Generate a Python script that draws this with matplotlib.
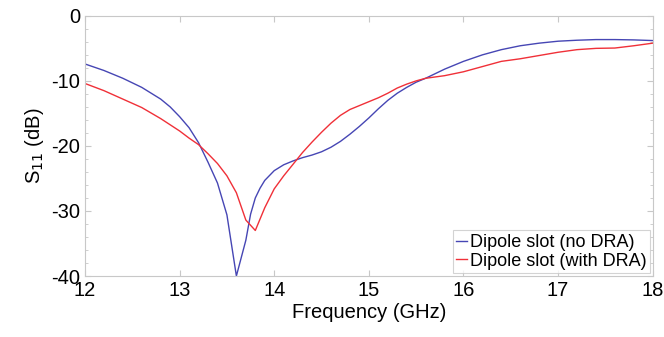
import numpy as np
import matplotlib.pyplot as plt

plt.rcParams['font.family'] = ['Liberation Sans', 'DejaVu Sans']
plt.rcParams['axes.unicode_minus'] = False

# Dipole slot (no DRA)
freq_no = [12.0, 12.2, 12.4, 12.6, 12.8, 12.9, 13.0, 13.1, 13.2, 13.3, 13.4, 13.5, 13.6,
           13.7, 13.75, 13.8, 13.85, 13.9, 14.0, 14.1, 14.2, 14.3, 14.4, 14.5, 14.6,
           14.7, 14.8, 14.9, 15.0, 15.1, 15.2, 15.3, 15.4, 15.5, 15.6, 15.8, 16.0,
           16.2, 16.4, 16.6, 16.8, 17.0, 17.2, 17.4, 17.6, 17.8, 18.0]
s11_no = [-7.4, -8.4, -9.6, -11.0, -12.8, -14.0, -15.5, -17.2, -19.5, -22.5, -25.7, -30.6, -40.0,
          -34.5, -30.5, -28.0, -26.5, -25.3, -23.8, -22.9, -22.3, -21.8, -21.4, -20.9, -20.2,
          -19.3, -18.2, -17.0, -15.7, -14.3, -13.0, -11.9, -11.0, -10.2, -9.6, -8.2, -7.0,
          -6.0, -5.2, -4.6, -4.2, -3.9, -3.75, -3.65, -3.65, -3.7, -3.8]

# Dipole slot (with DRA)
freq_dra = [12.0, 12.2, 12.4, 12.6, 12.8, 13.0, 13.1, 13.2, 13.3, 13.4, 13.5, 13.6, 13.7,
            13.8, 13.9, 14.0, 14.1, 14.2, 14.3, 14.4, 14.5, 14.6, 14.7, 14.8, 14.9,
            15.0, 15.1, 15.2, 15.3, 15.4, 15.5, 15.6, 15.8, 16.0, 16.2, 16.4, 16.6,
            16.8, 17.0, 17.2, 17.4, 17.6, 17.8, 18.0]
s11_dra = [-10.4, -11.5, -12.8, -14.1, -15.8, -17.7, -18.8, -19.8, -21.2, -22.7, -24.6, -27.2, -31.4,
           -33.0, -29.5, -26.6, -24.6, -22.8, -21.0, -19.4, -17.9, -16.5, -15.3, -14.4, -13.8,
           -13.2, -12.6, -11.9, -11.1, -10.5, -10.0, -9.6, -9.2, -8.6, -7.8, -7.0, -6.6,
           -6.1, -5.6, -5.2, -5.0, -4.95, -4.6, -4.2]

fig = plt.figure(figsize=(6.64, 3.37), dpi=100)
ax = fig.add_axes([0.128, 0.181, 0.855, 0.772])

ax.plot(freq_no, s11_no, color='#4646b4', lw=1.0, label='Dipole slot (no DRA)')
ax.plot(freq_dra, s11_dra, color='#f03038', lw=1.0, label='Dipole slot (with DRA)')

ax.set_xlim(12, 18)
ax.set_ylim(-40, 0)
ax.set_xticks(range(12, 19))
ax.set_yticks([0, -10, -20, -30, -40])
ax.set_yticks(np.arange(-40, 1, 2), minor=True)
ax.tick_params(which='both', direction='in', top=True, right=True, color='#c8c8c8',
               labelsize=14.5)
ax.tick_params(which='major', length=4)
ax.tick_params(which='minor', length=2.5)
for sp in ax.spines.values():
    sp.set_color('#c8c8c8')

ax.set_xlabel('Frequency (GHz)', fontsize=14.5, labelpad=2)
ax.set_ylabel(r'S$_{11}$ (dB)', fontsize=14.5, labelpad=4)

leg = ax.legend(loc='lower right', fontsize=13, frameon=True, fancybox=False,
                borderpad=0.2, handlelength=0.6, handletextpad=0.15, labelspacing=0.1,
                borderaxespad=0.15)
leg.get_frame().set_edgecolor('#c8c8c8')
leg.get_frame().set_linewidth(0.8)

fig.savefig('out.png', dpi=100)
